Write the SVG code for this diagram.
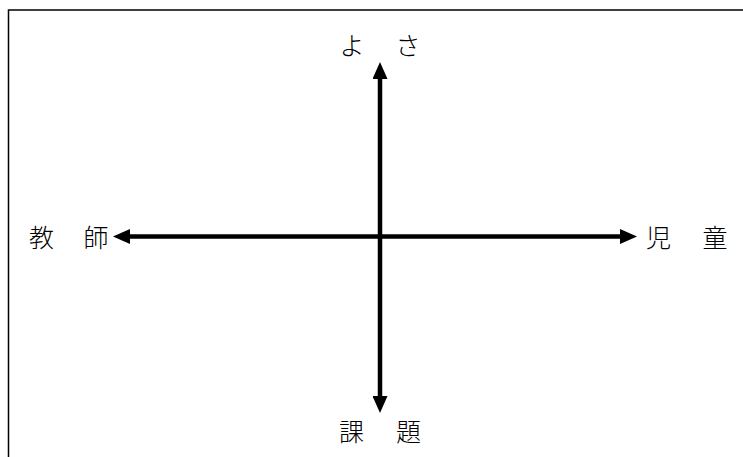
<svg xmlns="http://www.w3.org/2000/svg" width="743" height="457" viewBox="0 0 743 457">
<style>
.lbl{font-family:"Noto Sans CJK JP","Noto Sans CJK SC",sans-serif;font-size:25px;font-weight:300;fill:#000;text-anchor:middle;dominant-baseline:central;}
.ax{stroke:#000;stroke-width:4.5;fill:none;marker-start:url(#ah);marker-end:url(#ah);}
</style>
<defs>
<marker id="ah" markerUnits="userSpaceOnUse" markerWidth="17" markerHeight="15" refX="0" refY="7.5" orient="auto-start-reverse" viewBox="0 0 17 15">
<path d="M0,0 L17,7.5 L0,15 z" fill="#000"/>
</marker>
</defs>
<rect x="0" y="0" width="743" height="457" fill="#fff"/>
<rect x="8.5" y="10" width="760" height="470" fill="none" stroke="#000" stroke-width="1.5"/>
<g id="connectors">
<line class="ax" x1="380" y1="79" x2="380" y2="396"/>
<line class="ax" x1="130" y1="236.5" x2="620" y2="236.5"/>
</g>
<g id="node-yosa">
<text class="lbl" x="352" y="44">よ</text>
<text class="lbl" x="408" y="44">さ</text>
</g>
<g id="node-kyoshi">
<text class="lbl" x="41.5" y="235.5">教</text>
<text class="lbl" x="96" y="235.5">師</text>
</g>
<g id="node-jido">
<text class="lbl" x="658.5" y="235.5">児</text>
<text class="lbl" x="715" y="235.5">童</text>
</g>
<g id="node-kadai">
<text class="lbl" x="351.5" y="429.5">課</text>
<text class="lbl" x="408.5" y="429.5">題</text>
</g>
</svg>
